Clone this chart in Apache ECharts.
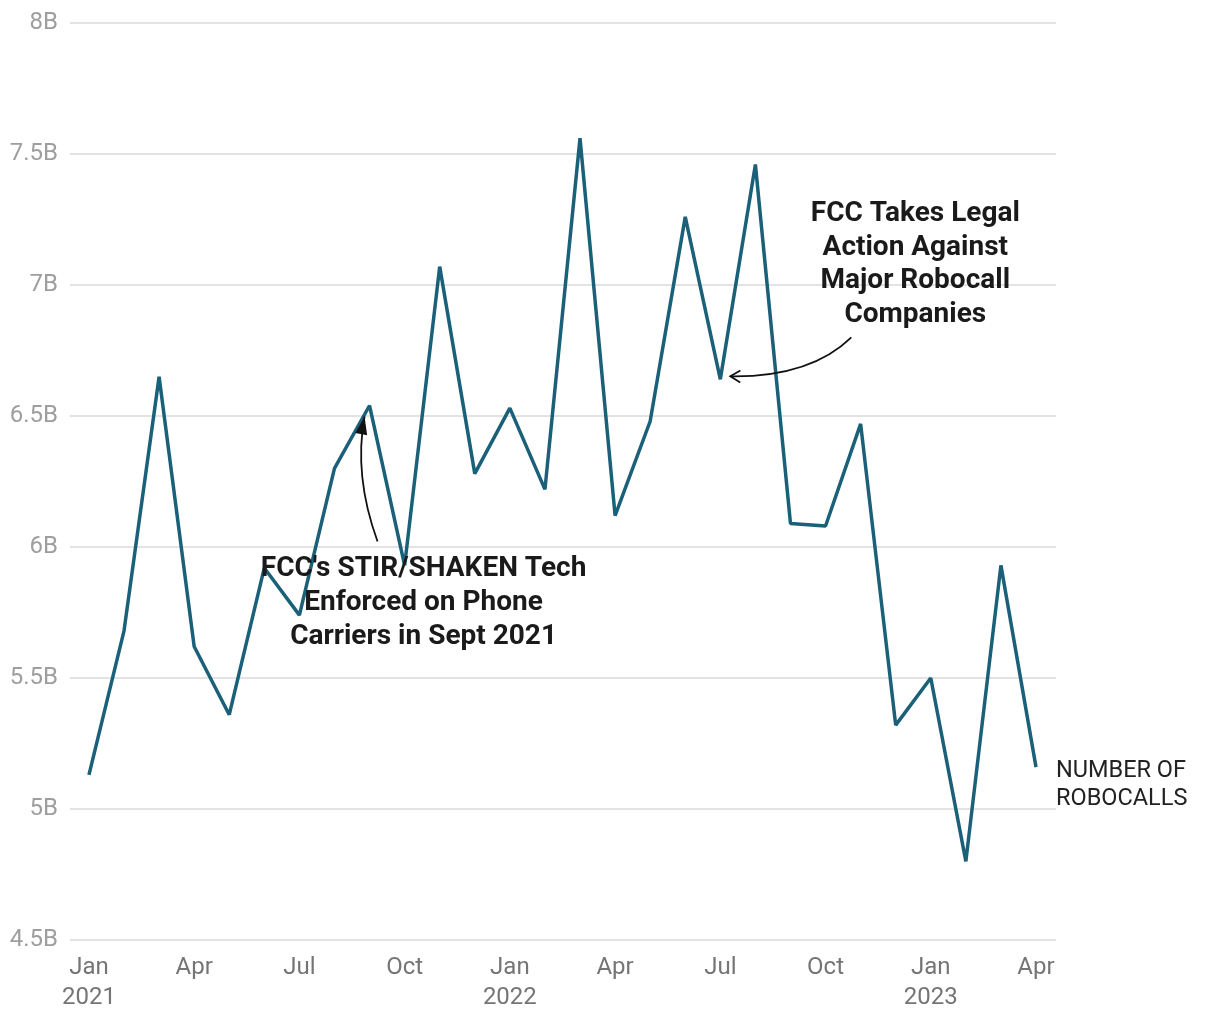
<!DOCTYPE html>
<html>
<head>
<meta charset="utf-8">
<script src="https://cdn.jsdelivr.net/npm/echarts@6/dist/echarts.min.js"></script>
<style>
html,body{margin:0;padding:0;background:#fff;}
#chart{width:1220px;height:1020px;}
</style>
</head>
<body>
<div id="chart"></div>
<script>
// Months (Jan 2021 - Apr 2023)
const months = ['2021-01','2021-02','2021-03','2021-04','2021-05','2021-06','2021-07','2021-08','2021-09','2021-10','2021-11','2021-12',
  '2022-01','2022-02','2022-03','2022-04','2022-05','2022-06','2022-07','2022-08','2022-09','2022-10','2022-11','2022-12',
  '2023-01','2023-02','2023-03','2023-04'];
// Robocalls (billions)
const robocalls = [5.13,5.68,6.65,5.62,5.36,5.92,5.74,6.30,6.54,5.93,7.07,6.28,
  6.53,6.22,7.56,6.12,6.48,7.26,6.64,7.46,6.09,6.08,6.47,5.32,
  5.50,4.80,5.93,5.16];
const monthNames = ['Jan','Feb','Mar','Apr','May','Jun','Jul','Aug','Sep','Oct','Nov','Dec'];
const tickIndices = [0,3,6,9,12,15,18,21,24,27];
const yTicks = [4.5,5,5.5,6,6.5,7,7.5,8];
const seriesName = 'NUMBER OF\nROBOCALLS';
const annotations = [
  {month:'2021-09', text:"FCC's STIR/SHAKEN Tech\nEnforced on Phone\nCarriers in Sept 2021"},
  {month:'2022-07', text:"FCC Takes Legal\nAction Against\nMajor Robocall\nCompanies"}
];

const lineColor = '#1b6079';
const chart = echarts.init(document.getElementById('chart'));
const data = robocalls.map((v,i)=>[i,v]);

function tickLabel(i){
  const [y,m] = months[i].split('-').map(Number);
  const name = monthNames[m-1];
  return m === 1 ? name + '\n' + y : name;
}

chart.setOption({
  animation:false,
  backgroundColor:'#fff',
  grid:{left:70,right:164,top:23,bottom:80,containLabel:false},
  xAxis:{
    type:'value', min:-0.54, max:27.57,
    axisLine:{show:false}, axisTick:{show:false}, splitLine:{show:false},
    axisLabel:{
      customValues: tickIndices,
      formatter:(v)=>tickLabel(Math.round(v)),
      color:'#757575', fontFamily:'Roboto', fontSize:24, lineHeight:30, margin:13
    }
  },
  yAxis:{
    type:'value', min:4.5, max:8, interval:0.5,
    axisLine:{show:false}, axisTick:{show:false},
    splitLine:{lineStyle:{color:'#e3e3e3',width:2}},
    axisLabel:{formatter:(v)=>v+'B', color:'#9e9e9e', fontFamily:'Roboto', fontSize:24, margin:12}
  },
  series:[{
    type:'line', name:seriesName, data:data, symbol:'none',
    lineStyle:{color:lineColor,width:3.5}, 
    endLabel:{show:true, formatter:seriesName, color:'#222', fontFamily:'Roboto', fontSize:23.5, lineHeight:28, distance:20, offset:[0,18], align:'left'}
  }]
});

// Annotations placed relative to their data points
const graphics = [];
function arrowHead(p, c, len, wid){
  const dx = p[0]-c[0], dy = p[1]-c[1];
  const L = Math.hypot(dx,dy); const ux=dx/L, uy=dy/L;
  const bx = p[0]-ux*len, by = p[1]-uy*len;
  return [[bx - uy*wid, by + ux*wid],[p[0],p[1]],[bx + uy*wid, by - ux*wid]];
}
// Annotation 1
{
  const i = months.indexOf(annotations[0].month);
  const pt = chart.convertToPixel({gridIndex:0},[i, robocalls[i]]);
  graphics.push({type:'text', x:pt[0]+54, y:pt[1]+146, style:{text:annotations[0].text, fill:'#1a1a1a', font:'bold 28px Roboto', align:'center', verticalAlign:'top', lineHeight:34}, z:10});
  const s=[pt[0]+8, pt[1]+136], c=[pt[0]-16, pt[1]+70], e=[pt[0]-5, pt[1]+11];
  graphics.push({type:'bezierCurve', shape:{x1:s[0],y1:s[1],x2:e[0],y2:e[1],cpx1:c[0],cpy1:c[1]}, style:{stroke:'#111',lineWidth:1.8,fill:null}, z:9});
  const h = arrowHead(e,c,18,6);
  graphics.push({type:'polygon', shape:{points:h}, style:{fill:'#111'}, z:9});
}
// Annotation 2
{
  const i = months.indexOf(annotations[1].month);
  const pt = chart.convertToPixel({gridIndex:0},[i, robocalls[i]]);
  graphics.push({type:'text', x:pt[0]+195, y:pt[1]-182, style:{text:annotations[1].text, fill:'#1a1a1a', font:'bold 28px Roboto', align:'center', verticalAlign:'top', lineHeight:33.5}, z:10});
  const s=[pt[0]+131, pt[1]-42], c=[pt[0]+90, pt[1]-2], e=[pt[0]+10, pt[1]-3];
  graphics.push({type:'bezierCurve', shape:{x1:s[0],y1:s[1],x2:e[0],y2:e[1],cpx1:c[0],cpy1:c[1]}, style:{stroke:'#111',lineWidth:1.8,fill:null}, z:9});
  const h = arrowHead(e,c,10,6);
  graphics.push({type:'polyline', shape:{points:h}, style:{stroke:'#111',lineWidth:1.8,fill:null}, z:9});
}
chart.setOption({graphic:graphics});
</script>
</body>
</html>
